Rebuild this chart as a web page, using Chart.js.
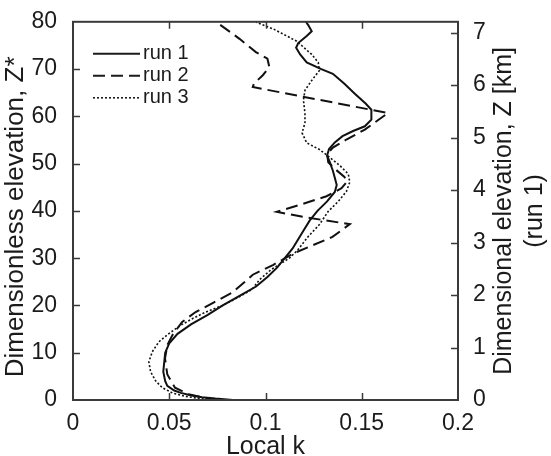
<!DOCTYPE html>
<html>
<head>
<meta charset="utf-8">
<script src="https://cdn.jsdelivr.net/npm/chart.js@4/dist/chart.umd.min.js"></script>
<style>
  html, body { margin: 0; padding: 0; background: #fff; }
  canvas { display: block; }
</style>
</head>
<body>
<canvas id="chartK" width="551" height="456"></canvas>
<script>
// valores: Z* (adimensional) e k local para cada run
const run1Z = [0, 0.3, 0.6, 1, 1.5, 2, 3, 4, 6, 8, 10, 12, 14, 16, 18, 20, 22, 24, 26, 28, 30, 32, 34, 36, 38, 40, 42, 44, 45.5, 47, 48.5, 50.3, 51.7, 53.1, 54.5, 55.8, 56.9, 57.9, 59.3, 61.4, 62.7, 64.8, 66.9, 69, 70, 71.4, 73.1, 74.5, 75.5, 77, 78, 79.3, 80];
const run1K = [0.083, 0.074, 0.067, 0.061, 0.056, 0.0526, 0.049, 0.0479, 0.0469, 0.0474, 0.0479, 0.05, 0.0543, 0.0613, 0.07, 0.0778, 0.0865, 0.0951, 0.101, 0.106, 0.110, 0.114, 0.117, 0.120, 0.123, 0.127, 0.132, 0.136, 0.137, 0.136, 0.135, 0.1334, 0.132, 0.133, 0.136, 0.140, 0.1455, 0.1516, 0.155, 0.155, 0.152, 0.1464, 0.141, 0.135, 0.129, 0.1214, 0.118, 0.1159, 0.117, 0.1214, 0.124, 0.1222, 0.121];

const run2Z = [0, 0.5, 1.2, 2.6, 5.4, 8.8, 11.6, 13.7, 16.5, 18.6, 20.6, 22.7, 24.9, 26.5, 28.6, 31, 34.5, 37.2, 38.6, 39.8, 41.3, 43.1, 44.8, 46.2, 47.2, 48.9, 50.3, 52, 53.4, 55.1, 57.2, 60.7, 66.2, 66.9, 68.7, 70.4, 72.2, 73.6, 76.4, 79.5, 80];
const run2K = [0.075, 0.068, 0.060, 0.053, 0.049, 0.0478, 0.049, 0.0516, 0.0567, 0.0637, 0.073, 0.0827, 0.089, 0.0934, 0.1041, 0.1145, 0.1348, 0.1438, 0.1214, 0.1059, 0.118, 0.1317, 0.1395, 0.1424, 0.141, 0.136, 0.1326, 0.132, 0.135, 0.142, 0.1516, 0.1636, 0.0934, 0.094, 0.0986, 0.102, 0.101, 0.095, 0.0865, 0.076, 0.074];

const run3Z = [0, 0.3, 0.8, 1.5, 2.6, 4, 6, 8.1, 10.2, 12.3, 14.1, 15.8, 17.2, 18.6, 20, 21.4, 23.4, 25.5, 27.6, 30, 31.7, 34.5, 37.1, 39.9, 42, 44.1, 46.1, 47.8, 49.6, 51.3, 53, 54.4, 56.5, 58.6, 60.7, 63.4, 65.5, 67.6, 69.7, 71.4, 73.1, 75.9, 78.5, 79.9];
const run3K = [0.072, 0.066, 0.058, 0.0516, 0.0464, 0.043, 0.0403, 0.0394, 0.0412, 0.0446, 0.05, 0.0559, 0.062, 0.0689, 0.0775, 0.0844, 0.093, 0.097, 0.103, 0.1124, 0.1167, 0.122, 0.128, 0.1326, 0.1378, 0.142, 0.1438, 0.143, 0.1386, 0.1334, 0.128, 0.1214, 0.119, 0.1205, 0.1205, 0.1197, 0.1205, 0.124, 0.128, 0.1274, 0.124, 0.1162, 0.104, 0.0951];

const runNames = ['run 1', 'run 2', 'run 3'];
const xTickLabels = ['0', '0.05', '0.1', '0.15', '0.2'];
const zStarPerKm = 11.1; // Z* por km (run 1), eixo da direita

const FONT = 'Arial, "Liberation Sans", sans-serif';
const INK = '#1b1b1b';
const dashes = [[], [12, 6], [2, 2]];
const widths = [2, 2, 1.6];

function pts(zs, ks){ return zs.map((z, i) => ({ x: ks[i], y: z })); }

// moldura, ticks para dentro, legenda e títulos verticais
const decor = {
  id: 'decor',
  afterDatasetsDraw(chart){
    const { ctx, chartArea: a, scales } = chart;
    const L = 7;
    ctx.save();
    ctx.strokeStyle = '#3a3a3a';
    ctx.lineWidth = 1.5;
    ctx.beginPath();
    scales.x.ticks.forEach(t => {
      if (t.value <= scales.x.min || t.value >= scales.x.max) return;
      const p = Math.round(scales.x.getPixelForValue(t.value)) + 0.5;
      ctx.moveTo(p, a.bottom); ctx.lineTo(p, a.bottom - L);
      ctx.moveTo(p, a.top); ctx.lineTo(p, a.top + L);
    });
    scales.y.ticks.forEach(t => {
      if (t.value <= scales.y.min || t.value >= scales.y.max) return;
      const p = Math.round(scales.y.getPixelForValue(t.value)) + 0.5;
      ctx.moveTo(a.left, p); ctx.lineTo(a.left + L, p);
    });
    scales.y2.ticks.forEach(t => {
      if (t.value <= scales.y2.min || t.value >= scales.y2.max) return;
      const p = Math.round(scales.y2.getPixelForValue(t.value)) + 0.5;
      ctx.moveTo(a.right, p); ctx.lineTo(a.right - L, p);
    });
    ctx.stroke();
    ctx.lineWidth = 2;
    ctx.strokeRect(a.left, a.top, a.right - a.left, a.bottom - a.top);

    // legenda
    ctx.font = '20px ' + FONT;
    ctx.fillStyle = INK;
    ctx.textBaseline = 'middle';
    runNames.forEach((name, i) => {
      const y = a.top + 32 + i * 22;
      ctx.beginPath();
      ctx.setLineDash(dashes[i]);
      ctx.lineWidth = widths[i];
      ctx.strokeStyle = INK;
      ctx.moveTo(a.left + 20, y); ctx.lineTo(a.left + 67, y);
      ctx.stroke();
      ctx.setLineDash([]);
      ctx.fillText(name, a.left + 70, y);
    });

    // títulos verticais (lidos de baixo para cima)
    const midY = (a.top + a.bottom) / 2;
    ctx.textAlign = 'center';
    ctx.font = '26px ' + FONT;
    ctx.save();
    ctx.translate(16, midY + 6);
    ctx.rotate(-Math.PI / 2);
    ctx.fillText('Dimensionless elevation, Z*', 0, 0);
    ctx.restore();

    ctx.font = '25px ' + FONT;
    ctx.translate(a.right + 46, midY);
    ctx.rotate(-Math.PI / 2);
    ctx.fillText('Dimensional elevation, Z [km]', 0, 0);
    ctx.fillText('(run 1)', 0, 31);
    ctx.restore();
  }
};

const runs = [[run1Z, run1K], [run2Z, run2K], [run3Z, run3K]];

new Chart(document.getElementById('chartK'), {
  type: 'scatter',
  data: {
    datasets: runs.map(([zs, ks], i) => ({
      label: runNames[i],
      data: pts(zs, ks),
      showLine: true,
      borderColor: '#111',
      borderWidth: widths[i],
      borderDash: dashes[i],
      pointRadius: 0,
      tension: 0,
      yAxisID: 'y'
    }))
  },
  options: {
    responsive: false,
    animation: false,
    layout: { padding: { top: 15, left: 0, right: 0, bottom: 0 } },
    plugins: { legend: { display: false }, tooltip: { enabled: false } },
    scales: {
      x: {
        type: 'linear', min: 0, max: 0.2,
        grid: { display: false }, border: { display: false },
        ticks: {
          stepSize: 0.05, padding: 2, color: INK, font: { family: FONT, size: 23 },
          maxRotation: 0,
          callback: (v) => xTickLabels[Math.round(v / 0.05)]
        },
        title: { display: true, text: 'Local k', color: INK, font: { family: FONT, size: 25, lineHeight: 1 }, padding: { top: 0, bottom: -4 } },
        afterFit: (s) => { s.height = 56; }
      },
      y: {
        type: 'linear', position: 'left', min: 0, max: 80,
        grid: { display: false }, border: { display: false },
        ticks: { stepSize: 10, padding: 8, color: INK, font: { family: FONT, size: 23 } },
        afterFit: (s) => { s.width = 73; }
      },
      y2: {
        type: 'linear', position: 'right', min: 0, max: 80 / zStarPerKm,
        grid: { display: false }, border: { display: false },
        ticks: { stepSize: 1, includeBounds: false, padding: 7, color: INK, font: { family: FONT, size: 23 } },
        afterFit: (s) => { s.width = 93; }
      }
    }
  },
  plugins: [decor]
});
</script>
</body>
</html>
